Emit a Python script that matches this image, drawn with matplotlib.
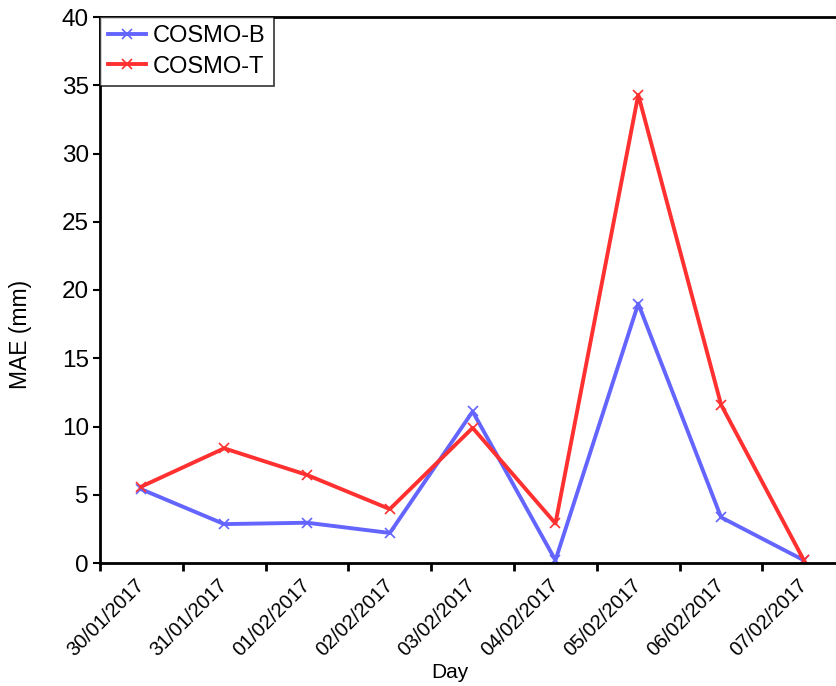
import matplotlib.pyplot as plt
import numpy as np

plt.rcParams['font.family'] = ['Liberation Sans', 'DejaVu Sans']

days = ['30/01/2017', '31/01/2017', '01/02/2017', '02/02/2017', '03/02/2017',
        '04/02/2017', '05/02/2017', '06/02/2017', '07/02/2017']
cosmo_b = [5.4, 2.85, 2.95, 2.2, 11.1, 0.2, 19.0, 3.35, 0.2]
cosmo_t = [5.6, 8.4, 6.45, 3.95, 9.9, 2.9, 34.3, 11.6, 0.2]

fig = plt.figure(figsize=(8.37, 6.86), dpi=100)
ax = fig.add_axes([100 / 837, 123 / 686, 1 - 100 / 837, 546 / 686])

x = np.arange(len(days))
ax.plot(x, cosmo_b, color='#6464ff', lw=2.8, marker='x', ms=7, mew=1.2, label='COSMO-B')
ax.plot(x, cosmo_t, color='#ff3030', lw=2.8, marker='x', ms=7, mew=1.2, label='COSMO-T')

ax.set_xlim(-0.5, 8.4)
ax.set_ylim(0, 40)
ax.set_yticks(np.arange(0, 41, 5))
ax.set_xticks(x)
ax.set_xticklabels(days, rotation=45, ha='right', va='center', rotation_mode='anchor', fontsize=14.5)
ax.set_xticks(np.arange(-0.5, 8, 1), minor=True)
ax.tick_params(axis='x', which='major', length=0, pad=14)
ax.tick_params(axis='x', which='minor', length=6, width=2, direction='out')
ax.tick_params(axis='y', length=5, width=1.5, labelsize=17.5, direction='out', pad=3)

for s in ['left', 'bottom', 'top']:
    ax.spines[s].set_linewidth(2)
ax.spines['right'].set_visible(False)

fig.text(450 / 837, 1 - 673 / 686, 'Day', fontsize=15, ha='center', va='center')
fig.text(21 / 837, 1 - 334 / 686, 'MAE (mm)', fontsize=16.5, rotation=90, ha='center', va='center')

leg = ax.legend(loc='upper left', fontsize=17, frameon=True, fancybox=False,
                borderaxespad=0, borderpad=0.35, handlelength=1.6, handletextpad=0.3,
                labelspacing=0.35)
leg.get_frame().set_edgecolor('black')
leg.get_frame().set_linewidth(1.2)

fig.savefig('out.png', dpi=100)
